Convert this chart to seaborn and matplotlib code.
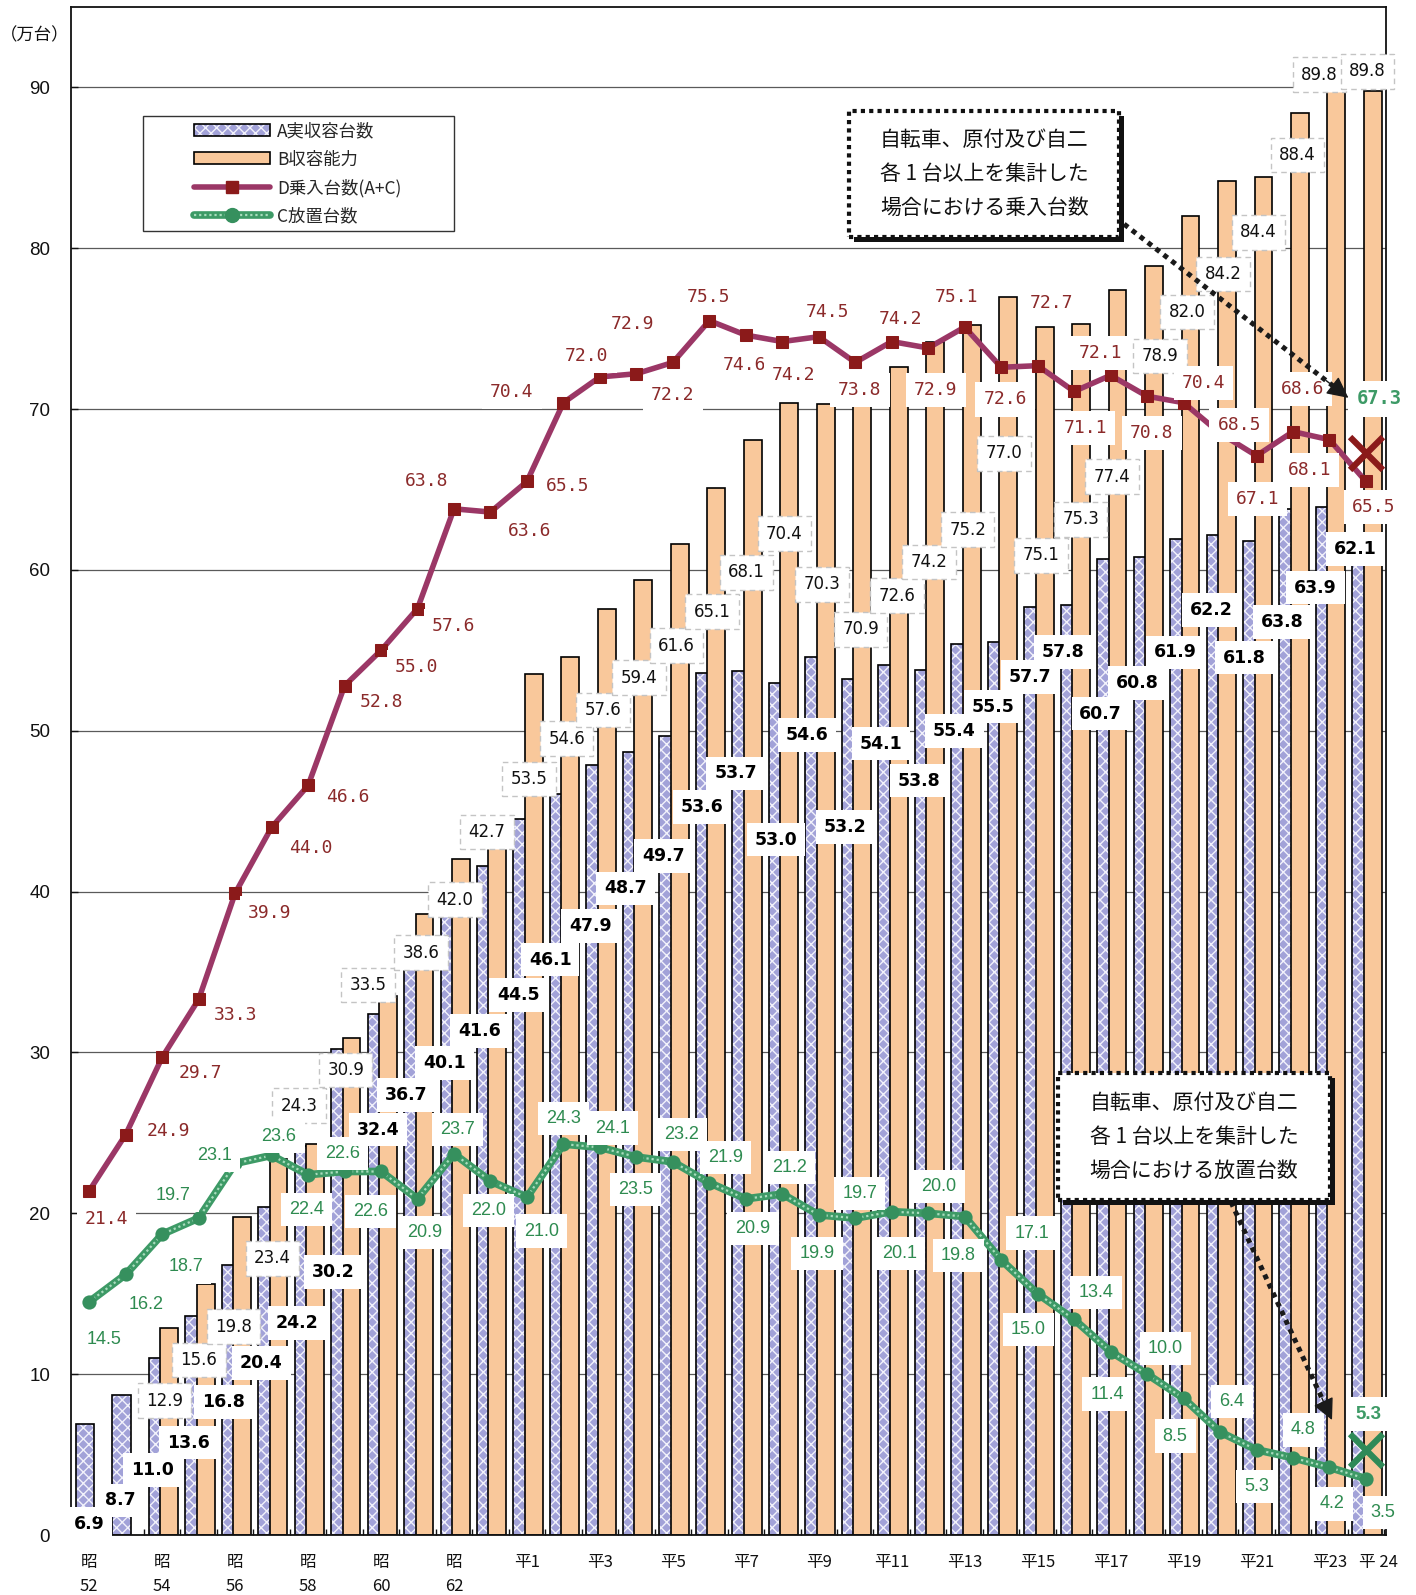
import numpy as np
import pandas as pd
import matplotlib
matplotlib.use('Agg')
import matplotlib.pyplot as plt
import matplotlib.transforms as mtransforms
from matplotlib.patches import Patch, Rectangle
from matplotlib.lines import Line2D
from matplotlib.legend_handler import HandlerTuple
import seaborn as sns

sns.set_theme(style='white')
plt.rcParams['font.family'] = ['Noto Sans CJK JP', 'DejaVu Sans']
plt.rcParams['hatch.linewidth'] = 1.0

# ---- data (万台) ----
eras = ['昭'] * 12 + ['平'] * 24
era_years = list(range(52, 64)) + list(range(1, 25))

A = [6.9, 8.7, 11.0, 13.6, 16.8, 20.4, 24.2, 30.2, 32.4, 36.7, 40.1, 41.6,
     44.5, 46.1, 47.9, 48.7, 49.7, 53.6, 53.7, 53.0, 54.6, 53.2, 54.1, 53.8,
     55.4, 55.5, 57.7, 57.8, 60.7, 60.8, 61.9, 62.2, 61.8, 63.8, 63.9, 62.1]
B = [np.nan, np.nan, 12.9, 15.6, 19.8, 23.4, 24.3, 30.9, 33.5, 38.6, 42.0, 42.7,
     53.5, 54.6, 57.6, 59.4, 61.6, 65.1, 68.1, 70.4, 70.3, 70.9, 72.6, 74.2,
     75.2, 77.0, 75.1, 75.3, 77.4, 78.9, 82.0, 84.2, 84.4, 88.4, 89.8, 89.8]
C = [14.5, 16.2, 18.7, 19.7, 23.1, 23.6, 22.4, 22.6, 22.6, 20.9, 23.7, 22.0,
     21.0, 24.3, 24.1, 23.5, 23.2, 21.9, 20.9, 21.2, 19.9, 19.7, 20.1, 20.0,
     19.8, 17.1, 15.0, 13.4, 11.4, 10.0, 8.5, 6.4, 5.3, 4.8, 4.2, 3.5]
D = [21.4, 24.9, 29.7, 33.3, 39.9, 44.0, 46.6, 52.8, 55.0, 57.6, 63.8, 63.6,
     65.5, 70.4, 72.0, 72.2, 72.9, 75.5, 74.6, 74.2, 74.5, 72.9, 74.2, 73.8,
     75.1, 72.6, 72.7, 71.1, 72.1, 70.8, 70.4, 68.5, 67.1, 68.6, 68.1, 65.5]
D_all_types = 67.3   # 自転車、原付及び自二 各1台以上を集計した場合
C_all_types = 5.3

# ---- label offsets from their point (x: year slots, y: 万台) ----
D_dx = [0.47, 1.16, 1.04, 1.02, 0.94, 1.08, 1.09, 1.01, 0.98, 0.99, -0.74, 1.08,
        1.11, -1.42, -0.36, 1.0, -1.1, -0.03, -0.03, 0.31, 0.23, 2.21, 0.24, -1.88,
        -0.23, 0.11, 0.37, 0.3, -0.27, 0.13, 0.55, 0.53, 0.03, 0.26, -0.55, 0.21]
D_dy = [-1.74, 0.2, -1.0, -0.94, -1.21, -1.26, -0.7, -1.03, -1.02, -1.09, 1.7, -1.2,
        -0.3, 0.65, 1.3, -1.3, 2.4, 1.5, -1.85, -2.07, 1.54, -1.7, 1.4, -2.6,
        1.9, -2.0, 3.9, -2.26, 1.4, -2.3, 1.2, 0.5, -2.7, 2.64, -1.9, -1.6]
C_dx = [0.4, 0.57, 0.65, -0.7, -0.56, 0.2, -0.04, -0.06, -0.28, 0.2, 0.1, -0.06,
        0.39, 0.0, 0.34, -0.02, 0.24, 0.44, 0.2, 0.2, -0.05, 0.12, 0.21, 0.3,
        -0.17, 0.84, -0.25, 0.6, -0.1, 0.5, -0.23, 0.33, 0.0, 0.29, 0.07, 0.47]
C_dy = [-2.34, -1.9, -2.03, 1.4, 0.5, 1.2, -2.16, 1.1, -2.5, -2.1, 1.53, -1.84,
        -2.1, 1.6, 1.2, -2.0, 1.7, 1.55, -1.84, 1.67, -2.39, 1.54, -2.59, 1.68,
        -2.42, 1.67, -2.23, 1.7, -2.64, 1.6, -2.35, 1.88, -2.3, 1.73, -2.27, -2.11]
A_dx = [0.0, -0.16, -0.27, -0.29, -0.32, -0.28, -0.31, -0.3, -0.08, -0.3, -0.26, -0.31,
        -0.23, -0.36, -0.27, -0.3, -0.26, -0.2, -0.28, -0.17, -0.33, -0.27, -0.3, -0.26,
        -0.28, -0.22, -0.2, -0.3, -0.27, -0.26, -0.23, -0.25, -0.33, -0.3, -0.38, -0.29]
A_dy = [-6.2, -6.55, -6.95, -7.85, -8.52, -9.72, -11.0, -13.83, -7.2, -9.33, -10.77, -10.25,
        -10.94, -10.32, -10.04, -8.5, -7.48, -8.34, -6.35, -9.76, -4.85, -9.2, -4.9, -6.9,
        -5.4, -4.0, -4.35, -2.9, -9.63, -7.83, -7.03, -4.7, -7.25, -7.04, -5.0, -0.8]
B_dx = [0, 0, 0.06, 0.01, -0.04, 0.02, -0.25, 0.03, -0.35, 0.1, 0.02, -0.1,
        0.05, 0.09, 0.09, 0.07, 0.1, 0.08, 0.02, 0.06, 0.09, 0.15, 0.15, 0.02,
        0.08, 0.08, 0.09, 0.18, 0.04, 0.35, 0.1, 0.08, 0.06, 0.12, -0.27, 0.04]
B_dy = [0, 0, -4.55, -4.72, -6.85, -6.2, 2.4, -2.0, 0.7, -2.4, -2.5, 1.0,
        -6.5, -5.1, -6.3, -6.1, -6.3, -7.7, -8.24, -8.14, -11.2, -14.6, -14.2, -13.7,
        -12.7, -9.74, -14.2, -12.15, -11.6, -5.6, -5.96, -5.8, -3.4, -2.6, 1.0, 1.2]

BLUE = '#a2a2d8'
ORANGE = '#f9c89b'
D_LINE = '#9b3766'
D_MARK = '#8b1a1a'
D_TEXT = '#8b2a2a'
C_LINE = '#3d9a66'
C_TEX = '#a9dcbd'
C_MARK = '#36905e'
C_TEXT = '#2e8b50'

df = pd.DataFrame({'slot': np.arange(len(A)), 'A': A, 'B': B, 'C': C, 'D': D})
df_b = df.dropna(subset=['B'])
last = df['slot'].iloc[-1]

fig = plt.figure(figsize=(14.16, 15.95), dpi=100)
ax = fig.add_axes([71 / 1416, 60 / 1595, 1315 / 1416, 1528 / 1595])

# bars: A (hatched, behind) and B (overlapping on the right)
sns.barplot(x=df['slot'] - 0.115, y=df['A'], native_scale=True, orient='x', width=0.51,
            color=BLUE, saturation=1, edgecolor='#f2f2fb', hatch='xxx', linewidth=0,
            errorbar=None, ax=ax, zorder=2)
sns.barplot(x=df['slot'] - 0.115, y=df['A'], native_scale=True, orient='x', width=0.51,
            color='black', fill=False, linewidth=1.2, errorbar=None, ax=ax, zorder=2.1)
sns.barplot(x=df_b['slot'] + 0.19, y=df_b['B'], native_scale=True, orient='x', width=0.49,
            color=ORANGE, saturation=1, edgecolor='black', linewidth=1.2,
            errorbar=None, ax=ax, zorder=2.2)

# lines
sns.lineplot(data=df, x='slot', y='D', color=D_LINE, lw=4, marker='s', markersize=8.5,
             markerfacecolor=D_MARK, markeredgecolor=D_MARK, ax=ax, zorder=4)
sns.lineplot(data=df, x='slot', y='C', color=C_LINE, lw=5.5, ax=ax, zorder=4)
sns.lineplot(data=df, x='slot', y='C', color=C_TEX, lw=1.6, linestyle=(0, (1, 1.3)),
             ax=ax, zorder=4.1)
sns.scatterplot(data=df, x='slot', y='C', color=C_MARK, s=105, linewidth=0, ax=ax, zorder=4.2)

ax.scatter([last], [D_all_types], marker='x', s=560, color=D_MARK, linewidths=4.5, zorder=4.3)
ax.scatter([last], [C_all_types], marker='x', s=560, color='#2f8a58', linewidths=4.5, zorder=4.3)


def put_labels(xs, vals, dxs, dys, fmt, **kw):
    for x, v, dx, dy in zip(xs, vals, dxs, dys):
        if np.isnan(v):
            continue
        ax.text(x + dx, v + dy, fmt.format(v), ha='center', va='center',
                clip_on=False, **kw)


box_plain = dict(boxstyle='square,pad=0.45', fc='white', ec='none')
box_dash = dict(boxstyle='square,pad=0.5', fc='white', ec='#c4c4c4', lw=1, ls=(0, (4, 3)))

put_labels(df['slot'], B, B_dx, B_dy, '{:.1f}', fontsize=12, family='DejaVu Sans',
           color='#111111', bbox=box_dash, zorder=5)
put_labels(df['slot'], A, A_dx, A_dy, '{:.1f}', fontsize=12.5, family='DejaVu Sans',
           fontweight='bold', color='black', bbox=box_plain, zorder=5.5)
put_labels(df['slot'], C, C_dx, C_dy, '{:.1f}', fontsize=13, family='Liberation Sans',
           color=C_TEXT, bbox=box_plain, zorder=5.2)
put_labels(df['slot'], D, D_dx, D_dy, '{:.1f}', fontsize=13, family='DejaVu Sans Mono',
           color=D_TEXT, bbox=box_plain, zorder=5.2)
put_labels([last], [D_all_types], [0.37], [3.35], '{:.1f}', fontsize=13.5,
           family='DejaVu Sans Mono', fontweight='bold', color=C_LINE, bbox=box_plain, zorder=5.2)
put_labels([last], [C_all_types], [0.07], [2.22], '{:.1f}', fontsize=13.5,
           family='Liberation Sans', fontweight='bold', color=C_LINE, bbox=box_plain, zorder=5.2)


# note boxes with dotted border and a drop shadow
def note_box(x0, y0, x1, y1, text):
    shadow = mtransforms.offset_copy(ax.transData, fig=fig, x=5, y=-5, units='dots')
    ax.add_patch(Rectangle((x0, y0), x1 - x0, y1 - y0, transform=shadow,
                           fc='#111111', ec='none', zorder=7))
    ax.add_patch(Rectangle((x0, y0), x1 - x0, y1 - y0, fc='white', ec='#111111',
                           lw=3, ls=(0, (1, 1)), zorder=7.1))
    ax.text((x0 + x1) / 2, (y0 + y1) / 2, text, ha='center', va='center',
            multialignment='left', fontsize=15, linespacing=1.7, color='#111111',
            zorder=7.2)


note_box(20.83, 80.67, 28.24, 88.56, '自転車、原付及び自二\n各 1 台以上を集計した\n場合における乗入台数')
note_box(26.56, 20.82, 34.02, 28.71, '自転車、原付及び自二\n各 1 台以上を集計した\n場合における放置台数')


# dotted pointer lines with a solid head
def pointer(start, tip):
    sx, sy = start
    tx, ty = tip
    ax.plot([sx, sx + 0.93 * (tx - sx)], [sy, sy + 0.93 * (ty - sy)], color='#1a1a1a',
            lw=3.6, ls=(0, (1, 1)), dash_capstyle='butt', zorder=6)
    ax.annotate('', xy=tip, xytext=(sx + 0.9 * (tx - sx), sy + 0.9 * (ty - sy)),
                arrowprops=dict(arrowstyle='-|>,head_length=1.1,head_width=0.55', lw=1,
                                color='#1a1a1a', shrinkA=0, shrinkB=0), zorder=6)


pointer((28.37, 81.5), (34.52, 70.7))
pointer((31.3, 20.7), (34.07, 7.15))

# legend
handles = [
    (Patch(fc=BLUE, ec='#f2f2fb', hatch='xxx', lw=0), Patch(fc='none', ec='black', lw=1.2)),
    Patch(fc=ORANGE, ec='black', lw=1.2),
    Line2D([], [], color=D_LINE, lw=4, marker='s', markersize=8.5, mfc=D_MARK, mec=D_MARK),
    (Line2D([], [], color=C_LINE, lw=5.5),
     Line2D([], [], color=C_TEX, lw=1.6, ls=(0, (1, 1.3))),
     Line2D([], [], ls='', marker='o', markersize=10, mfc=C_MARK, mec=C_MARK)),
]
labels = ['A実収容台数', 'B収容能力', 'D乗入台数(A+C)', 'C放置台数']
ax.add_patch(Rectangle((0.0548, 0.8532), 0.2365, 0.0753, transform=ax.transAxes,
                       fc='white', ec='#333333', lw=1, zorder=5.8))
leg = ax.legend(handles, labels, handler_map={tuple: HandlerTuple(ndivide=1, pad=0)},
                loc='upper left', bbox_to_anchor=(0.0935, 0.9245), borderaxespad=0,
                borderpad=0, frameon=False, handlelength=4.4, handleheight=0.7,
                handletextpad=0.4, labelspacing=0.58, fontsize=12.5)
leg.set_zorder(6)

# axes
ax.set_xlim(-0.5, 35.55)
ax.set_ylim(0, 95)
ax.set_xlabel('')
ax.set_ylabel('')

tick_pos = [0, 2, 4, 6, 8, 10] + list(range(12, 35, 2)) + [35]
tick_text = [f'{eras[i]}\n{era_years[i]}' if eras[i] == '昭' else f'{eras[i]}{era_years[i]}'
             for i in tick_pos]
tick_text[-1] = f'{eras[35]} {era_years[35]}'
ax.set_xticks(tick_pos, tick_text)
ax.set_xticks(np.arange(-0.5, 36, 1), minor=True)
ax.tick_params(axis='x', which='major', length=0, pad=14, labelsize=12, colors='#111111')
ax.tick_params(axis='x', which='minor', direction='in', length=4.5, width=1,
               bottom=True, color='#111111')
for lbl in ax.get_xticklabels():
    lbl.set_linespacing(1.5)
lbl = ax.get_xticklabels()[-1]
lbl.set_transform(lbl.get_transform() + mtransforms.ScaledTranslation(0.12, 0, fig.dpi_scale_trans))

ax.set_yticks(range(0, 91, 10))
ax.tick_params(axis='y', direction='in', length=5, width=1, pad=15, labelsize=13.5,
               left=True, colors='#111111')
for lbl in ax.get_yticklabels():
    lbl.set_fontfamily('Liberation Sans')

ax.yaxis.grid(True, color='#5a5a5a', lw=0.9)
ax.xaxis.grid(False)
ax.set_axisbelow(True)
for sp in ax.spines.values():
    sp.set_visible(True)
    sp.set_color('#111111')
    sp.set_linewidth(1.3)

fig.text(35 / 1416, 1 - 35 / 1595, '（万台）', ha='center', va='center', fontsize=12.5,
         color='#111111')

fig.savefig('out.png', dpi=100)
